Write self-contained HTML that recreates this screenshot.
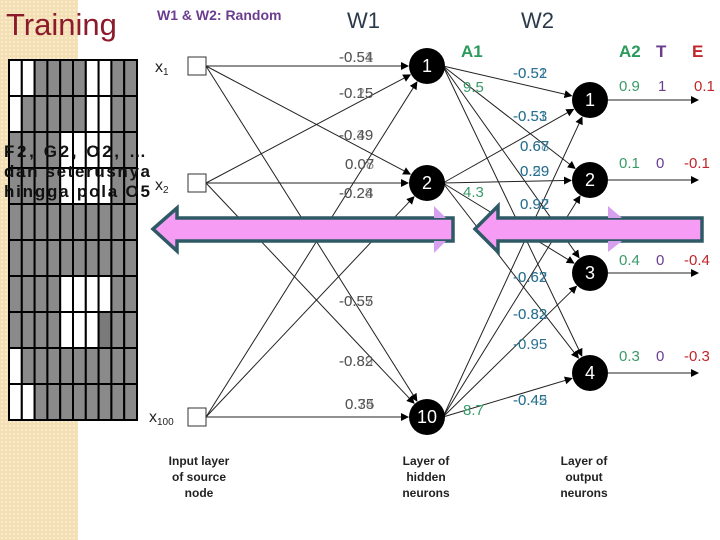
<!DOCTYPE html>
<html><head><meta charset="utf-8">
<style>
body{margin:0;width:720px;height:540px;overflow:hidden;background:#fff;font-family:"Liberation Sans",sans-serif}
#bg{position:absolute;left:0;top:0;width:78px;height:540px;background:#f3dfb3;background-image:radial-gradient(#f8ecd0 1px,transparent 1.2px);background-size:4px 4px}
svg{position:absolute;left:0;top:0}
</style></head><body>
<div id="bg"></div>
<svg id="s" width="720" height="540" viewBox="0 0 720 540" font-family="Liberation Sans, sans-serif">
<defs><marker id="a" markerWidth="8" markerHeight="8" refX="7" refY="4" orient="auto" markerUnits="userSpaceOnUse"><path d="M0,0 L8,4 L0,8z" fill="#000"/></marker></defs>
<g id="grid"></g>
<g id="lines" stroke="#222" stroke-width="1" fill="none"></g>
<g fill="#fff" stroke="#333" stroke-width="1">
<rect x="188" y="57" width="18" height="18"/><rect x="188" y="174" width="18" height="18"/><rect x="188" y="408" width="18" height="18"/>
</g>
<g font-size="16" fill="#222">
<text x="155" y="72">x<tspan font-size="10" dy="3">1</tspan></text>
<text x="155" y="190">x<tspan font-size="10" dy="3">2</tspan></text>
<text x="149" y="422">x<tspan font-size="10" dy="3">100</tspan></text>
</g>
<g fill="#000"><circle cx="427" cy="66" r="18"/><circle cx="427" cy="183" r="18"/><circle cx="427" cy="417" r="18"/>
<circle cx="590" cy="100" r="18"/><circle cx="590" cy="180" r="18"/><circle cx="590" cy="273" r="18"/><circle cx="590" cy="373" r="18"/></g>
<g fill="#fff" font-size="18" text-anchor="middle">
<text x="427" y="72">1</text><text x="427" y="189">2</text><text x="427" y="423">10</text>
<text x="590" y="106">1</text><text x="590" y="186">2</text><text x="590" y="279">3</text><text x="590" y="379">4</text></g>
<text x="6" y="35" font-size="31" fill="#8b1a2b">Training</text>
<text x="157" y="20" font-size="14" font-weight="bold" fill="#6b3d8f">W1 &amp; W2: Random</text>
<text x="347" y="28" font-size="22" fill="#2b3a4a">W1</text>
<text x="521" y="28" font-size="22" fill="#2b3a4a">W2</text>
<g font-size="17" font-weight="bold"><text x="461" y="57" fill="#2a9a5a">A1</text><text x="619" y="57" fill="#2a9a5a">A2</text><text x="656" y="57" fill="#6b3d8f">T</text><text x="692" y="57" fill="#c0262a">E</text></g>
<g font-size="15" fill="#555">
<text x="339" y="62">-0.54</text><text x="339" y="62" opacity=".6">-0.51</text>
<text x="339" y="98">-0.15</text><text x="339" y="98" opacity=".6">-0.25</text>
<text x="339" y="140">-0.49</text><text x="339" y="140" opacity=".6">-0.39</text>
<text x="345" y="169">0.07</text><text x="345" y="169" opacity=".6">0.08</text>
<text x="339" y="198">-0.24</text><text x="339" y="198" opacity=".6">-0.28</text>
<text x="339" y="241">-0.95</text>
<text x="339" y="306">-0.55</text><text x="339" y="306" opacity=".6">-0.57</text>
<text x="339" y="366">-0.82</text><text x="339" y="366" opacity=".6">-0.89</text>
<text x="345" y="409">0.35</text><text x="345" y="409" opacity=".6">0.74</text>
</g>
<g font-size="15" fill="#3a9a6a"><text x="463" y="92">9.5</text><text x="463" y="197">4.3</text><text x="463" y="415">8.7</text>
<text x="619" y="91">0.9</text><text x="619" y="168">0.1</text><text x="619" y="265">0.4</text><text x="619" y="361">0.3</text></g>
<g font-size="15" fill="#6b3d8f"><text x="658" y="91">1</text><text x="656" y="168">0</text><text x="656" y="265">0</text><text x="656" y="361">0</text></g>
<g font-size="15" fill="#c0262a"><text x="694" y="91">0.1</text><text x="684" y="168">-0.1</text><text x="684" y="265">-0.4</text><text x="684" y="361">-0.3</text></g>
<g font-size="15" fill="#2a7090">
<text x="513" y="78">-0.52</text><text x="513" y="78" opacity=".6">-0.51</text>
<text x="513" y="121">-0.53</text><text x="513" y="121" opacity=".6">-0.51</text>
<text x="520" y="151">0.67</text><text x="520" y="151" opacity=".6">0.68</text>
<text x="520" y="176">0.29</text><text x="520" y="176" opacity=".6">0.59</text>
<text x="520" y="209">0.92</text><text x="520" y="209" opacity=".6">0.97</text>
<text x="520" y="241">0.25</text>
<text x="513" y="282">-0.62</text><text x="513" y="282" opacity=".6">-0.67</text>
<text x="513" y="319">-0.82</text><text x="513" y="319" opacity=".6">-0.83</text>
<text x="513" y="349">-0.95</text>
<text x="513" y="405">-0.45</text><text x="513" y="405" opacity=".6">-0.42</text>
</g>
<g stroke="#2e5a66" stroke-width="3.5" fill="#f79cf5">
<polygon points="153,229 177,208 177,218 453,218 453,241 177,241 177,251"/>
<polygon points="475,229 498,206 498,218 702,218 702,241 498,241 498,252"/>
</g>
<g fill="#d6a0ef"><polygon points="434,206 446,218 434,218"/><polygon points="434,241 446,241 434,253"/>
<polygon points="608,206 622,218 608,218"/><polygon points="608,241 622,241 608,252"/></g>
<g font-size="12" font-weight="bold" fill="#222" text-anchor="middle">
<text x="199" y="465">Input layer</text><text x="199" y="481">of source</text><text x="199" y="497">node</text>
<text x="426" y="465">Layer of</text><text x="426" y="481">hidden</text><text x="426" y="497">neurons</text>
<text x="584" y="465">Layer of</text><text x="584" y="481">output</text><text x="584" y="497">neurons</text></g>
<g font-size="17" font-weight="bold" fill="#111">
<text x="4" y="157" textLength="142">F2, G2, O2, …</text>
<text x="4" y="177" textLength="146">dan seterusnya</text>
<text x="4" y="197" textLength="146">hingga pola O5</text></g>
</svg>
<script>
var NS="http://www.w3.org/2000/svg";
function el(p,t,a){var e=document.createElementNS(NS,t);for(var k in a)e.setAttribute(k,a[k]);p.appendChild(e);return e;}
var g=document.getElementById("grid");
var W=[[0,1,6,7],[0,6,7],[4,5,6,7],[4,5,6,7],[],[],[4,5,6,7],[4,5,6],[0],[0,1]];
for(var r=0;r<10;r++)for(var c=0;c<10;c++){
 var wh=W[r].indexOf(c)>=0;
 el(g,"rect",{x:9+c*12.8,y:60+r*36,width:12.8,height:36,fill:wh?"#fff":(r==7&&c==7?"#7a7a7a":"#8a8a8a"),stroke:"#000","stroke-width":2});
}
var L=document.getElementById("lines");
function ln(x1,y1,x2,y2,rr){var dx=x2-x1,dy=y2-y1,d=Math.sqrt(dx*dx+dy*dy);
 el(L,"line",{x1:x1,y1:y1,x2:x2-dx/d*rr,y2:y2-dy/d*rr,"marker-end":"url(#a)"});}
var I=[[206,66],[206,183],[206,417]],H=[[427,66],[427,183],[427,417]],O=[[590,100],[590,180],[590,273],[590,373]];
I.forEach(function(a){H.forEach(function(b){ln(a[0],a[1],b[0],b[1],19);});});
H.forEach(function(a){O.forEach(function(b){ln(a[0]+16,a[1],b[0],b[1],19);});});
O.forEach(function(a){el(L,"line",{x1:608,y1:a[1],x2:698,y2:a[1],"marker-end":"url(#a)"});});
</script>
</body></html>
